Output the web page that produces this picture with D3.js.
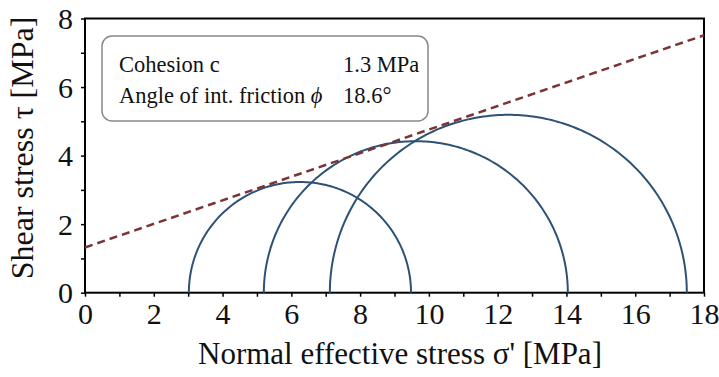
<!DOCTYPE html>
<html><head><meta charset="utf-8">
<script src="https://cdn.jsdelivr.net/npm/d3@7"></script>
<style>body{margin:0;background:#fff}svg{display:block}text{font-family:"Liberation Serif","Times New Roman",serif;fill:#111}</style>
</head><body><svg id="c" width="719" height="377"></svg>
<script>
// Data
const xTicks = [0,2,4,6,8,10,12,14,16,18];
const yTicks = [0,2,4,6,8];
const circleSigma3 = [3.02, 5.2, 7.12];   // minor principal stress
const circleSigma1 = [9.48, 14.04, 17.5]; // major principal stress
const envelopeX = [0, 18];
const envelopeTau = [1.32, 7.51];
const infoLabels = ["Cohesion c", "Angle of int. friction "];
const infoValues = ["1.3 MPa", "18.6\u00B0"];

const svg = d3.select("#c");
const L = 85, R = 704, T = 18.5, B = 292.7;
const x = d3.scaleLinear().domain([0,18]).range([L,R]);
const y = d3.scaleLinear().domain([0,8]).range([B,T]);

// frame
svg.append("rect").attr("x",L).attr("y",T).attr("width",R-L).attr("height",B-T)
  .attr("fill","none").attr("stroke","#000").attr("stroke-width",2);

// minor ticks
const minorX = d3.range(1,18,2), minorY = d3.range(1,8,2);
const xAxis = d3.axisBottom(x).tickValues(xTicks).tickSize(4).tickPadding(6).tickFormat(d3.format("d"));
const gx = svg.append("g").attr("transform",`translate(0,${B})`).call(xAxis);
svg.append("g").attr("transform",`translate(0,${B})`).call(d3.axisBottom(x).tickValues(minorX).tickSize(4).tickFormat(""));
const gy = svg.append("g").attr("transform",`translate(${L},0)`).call(d3.axisLeft(y).tickValues(yTicks).tickSize(4).tickPadding(8).tickFormat(d3.format("d")));
svg.append("g").attr("transform",`translate(${L},0)`).call(d3.axisLeft(y).tickValues(minorY).tickSize(4).tickFormat(""));
svg.selectAll(".domain").remove();
svg.selectAll(".tick line").attr("stroke","#000").attr("stroke-width",1.5);
svg.selectAll(".tick text").style("font-family",'"Liberation Serif",serif').style("font-size","30px").attr("fill","#111");
gx.selectAll(".tick text").attr("dy","0.71em");
gy.selectAll(".tick text").attr("dy","0.34em");

// circles (upper halves)
const arc = (s3, s1) => {
  const c = (s1+s3)/2, r = (s1-s3)/2;
  const pts = d3.range(0,181,1).map(a => [c + r*Math.cos(Math.PI - a*Math.PI/180), r*Math.sin(a*Math.PI/180)]);
  return d3.line().x(d=>x(d[0])).y(d=>y(d[1]))(pts);
};
svg.append("g").selectAll("path").data(circleSigma3).join("path")
  .attr("d",(d,i)=>arc(d, circleSigma1[i]))
  .attr("fill","none").attr("stroke","#2e5275").attr("stroke-width",2);

// envelope
svg.append("path").datum(envelopeX.map((d,i)=>[d,envelopeTau[i]]))
  .attr("d", d3.line().x(d=>x(d[0])).y(d=>y(d[1])))
  .attr("fill","none").attr("stroke","#7b3434").attr("stroke-width",2.5).attr("stroke-dasharray","8,5");

// info box
svg.append("rect").attr("x",102).attr("y",36).attr("width",326).attr("height",85).attr("rx",10)
  .attr("fill","#fff").attr("stroke","#888").attr("stroke-width",1.5);
const rowsY = [72, 103];
infoLabels.forEach((t,i)=>{
  const tx = svg.append("text").attr("x",119).attr("y",rowsY[i]).style("font-size","22.5px").text(t);
  if (i === 1) tx.append("tspan").style("font-style","italic").text("\u03D5");
  svg.append("text").attr("x",343).attr("y",rowsY[i]).style("font-size","22.5px").text(infoValues[i]);
});

// axis titles
svg.append("text").attr("x",400).attr("y",364).attr("text-anchor","middle").style("font-size","31px")
  .text("Normal effective stress \u03C3' [MPa]");
svg.append("text").attr("transform",`translate(33,${148}) rotate(-90)`).attr("text-anchor","middle").style("font-size","32px")
  .text("Shear stress \u03C4 [MPa]");
</script></body></html>
